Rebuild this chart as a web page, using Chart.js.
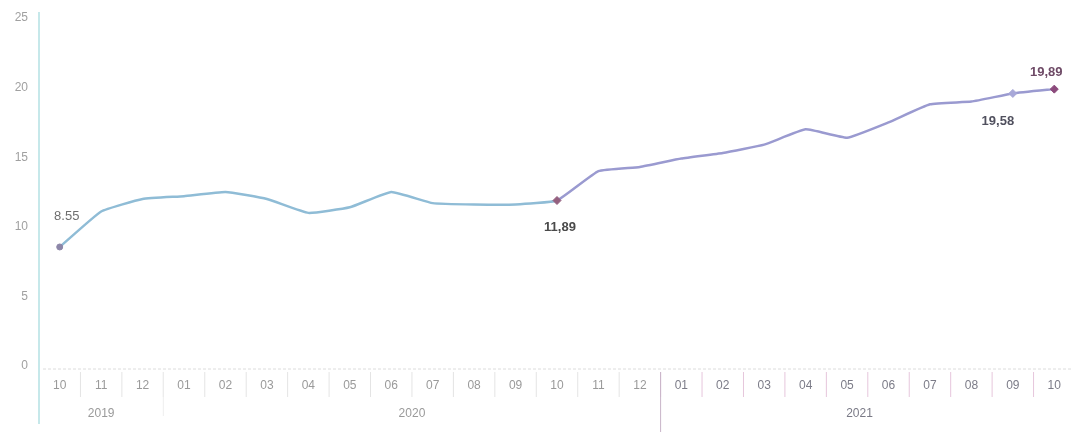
<!DOCTYPE html>
<html>
<head>
<meta charset="utf-8">
<script src="https://cdn.jsdelivr.net/npm/chart.js@4.4.1/dist/chart.umd.min.js"></script>
<style>
  html, body { margin: 0; padding: 0; background: #fff; overflow: hidden; }
  #wrap { width: 1080px; height: 432px; position: relative; }
</style>
</head>
<body>
<div id="wrap"><canvas id="chart"></canvas></div>
<script>
// months on the x axis, 2019-10 .. 2021-10
const months = ['10','11','12','01','02','03','04','05','06','07','08','09','10','11','12','01','02','03','04','05','06','07','08','09','10'];
const values = [8.55, 11.1, 12.0, 12.2, 12.5, 12.0, 11.0, 11.4, 12.5, 11.7, 11.6, 11.6, 11.89, 14.0, 14.3, 14.9, 15.3, 15.9, 17.0, 16.4, 17.5, 18.8, 19.0, 19.58, 19.89];

// year captions under the months (position = month index they sit under)
const years = ['2019', '2020', '2021'];
const yearPos = [1, 8.5, 19.3];
// index where a new year starts
const yearStarts = [3, 15];

// point annotations
const labelIdx = [0, 12, 23, 24];
const labelText = ['8.55', '11,89', '19,58', '19,89'];

const yTicks = [0, 5, 10, 15, 20, 25];

const split = 12; // second colour from here on

const pointStyles = values.map((v, i) => i === 0 ? 'circle' : 'rectRot');
const pointRadius = values.map((v, i) => labelIdx.includes(i) ? (i === 0 ? 3 : 4) : 0);
const pointColors = values.map((v, i) => {
  if (i === 0) return '#8c86a8';
  if (i === 23) return '#a8a8d8';
  if (i === 24) return '#8c4a7c';
  return '#94607f';
});

function idxPixel(x, pos) {
  const step = x.getPixelForValue(1) - x.getPixelForValue(0);
  return x.getPixelForValue(0) + pos * step;
}

const extras = {
  id: 'extras',
  afterDraw(c) {
    const ctx = c.ctx;
    const x = c.scales.x;
    const y = c.scales.y;
    const area = c.chartArea;
    ctx.save();

    // y axis line running down past the months
    ctx.strokeStyle = '#b3e0e3';
    ctx.lineWidth = 1.5;
    ctx.beginPath();
    ctx.moveTo(area.left, 12);
    ctx.lineTo(area.left, 424);
    ctx.stroke();

    // baseline
    ctx.strokeStyle = '#dcdcdc';
    ctx.lineWidth = 1;
    ctx.setLineDash([3, 2]);
    ctx.beginPath();
    ctx.moveTo(area.left + 4, area.bottom + 3);
    ctx.lineTo(area.right, area.bottom + 3);
    ctx.stroke();
    ctx.setLineDash([]);

    // month separators
    for (let i = 0; i < months.length - 1; i++) {
      const px = idxPixel(x, i + 0.5);
      ctx.strokeStyle = i >= yearStarts[1] - 1 ? '#e6c6dc' : '#e4e4e4';
      ctx.beginPath();
      ctx.moveTo(px, area.bottom + 6);
      ctx.lineTo(px, area.bottom + 31);
      ctx.stroke();
    }
    // year separators
    yearStarts.forEach((s, k) => {
      const px = idxPixel(x, s - 0.5);
      ctx.strokeStyle = k === 1 ? '#c8b4c8' : '#eeeeee';
      ctx.beginPath();
      ctx.moveTo(px, area.bottom + 6);
      ctx.lineTo(px, k === 1 ? 432 : area.bottom + 50);
      ctx.stroke();
    });

    // year captions
    ctx.font = '12px "Liberation Sans", Arial, sans-serif';
    ctx.textAlign = 'center';
    ctx.textBaseline = 'middle';
    years.forEach((t, k) => {
      ctx.fillStyle = k === 2 ? '#7a7a86' : '#9a9a9a';
      ctx.fillText(t, idxPixel(x, yearPos[k]), area.bottom + 48);
    });

    // value labels
    labelIdx.forEach((idx, k) => {
      const px = x.getPixelForValue(idx);
      const py = y.getPixelForValue(values[idx]);
      if (k === 0) {
        ctx.font = '13px "Liberation Sans", Arial, sans-serif';
        ctx.fillStyle = '#6e6e6e';
        ctx.fillText(labelText[k], px + 7, py - 31);
      } else if (k === 1) {
        ctx.font = 'bold 13px "Liberation Sans", Arial, sans-serif';
        ctx.fillStyle = '#4a4a4a';
        ctx.fillText(labelText[k], px + 3, py + 27);
      } else if (k === 2) {
        ctx.font = 'bold 13px "Liberation Sans", Arial, sans-serif';
        ctx.fillStyle = '#50505e';
        ctx.fillText(labelText[k], px - 15, py + 28);
      } else {
        ctx.font = 'bold 13px "Liberation Sans", Arial, sans-serif';
        ctx.fillStyle = '#6e4a66';
        ctx.fillText(labelText[k], px - 8, py - 17);
      }
    });
    ctx.restore();
  }
};

const chart = new Chart(document.getElementById('chart').getContext('2d'), {
  type: 'line',
  data: {
    labels: months,
    datasets: [{
      data: values,
      borderColor: '#8fbcd6',
      borderWidth: 2.5,
      tension: 0.12,
      fill: false,
      segment: {
        borderColor: ctx => ctx.p0DataIndex >= split ? '#9a9ad0' : '#8fbcd6'
      },
      pointStyle: pointStyles,
      pointRadius: pointRadius,
      pointBackgroundColor: pointColors,
      pointBorderColor: pointColors,
      pointBorderWidth: 1
    }]
  },
  options: {
    responsive: true,
    maintainAspectRatio: false,
    animation: false,
    layout: { padding: { top: 18, right: 0, left: 0, bottom: 0 } },
    plugins: {
      legend: { display: false },
      tooltip: { enabled: false }
    },
    scales: {
      y: {
        min: 0,
        max: 25,
        afterBuildTicks: s => { s.ticks = yTicks.map(v => ({ value: v })); },
        afterFit: s => { s.width = 39; },
        grid: { display: false },
        border: { display: false },
        ticks: {
          color: '#a0a0a0',
          padding: 3,
          font: { family: '"Liberation Sans", Arial, sans-serif', size: 12 }
        }
      },
      x: {
        offset: true,
        afterFit: s => { s.height = 66; },
        grid: { display: false },
        border: { display: false },
        ticks: {
          autoSkip: false,
          maxRotation: 0,
          padding: 4,
          color: ctx => ctx.index >= yearStarts[1] ? '#7c7c88' : '#9a9a9a',
          font: { family: '"Liberation Sans", Arial, sans-serif', size: 12 }
        }
      }
    }
  },
  plugins: [extras]
});
</script>
</body>
</html>
